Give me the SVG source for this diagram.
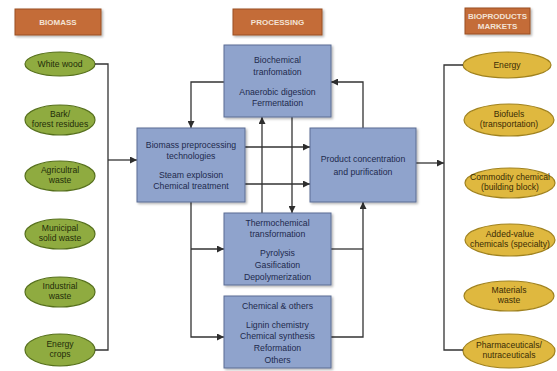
<svg xmlns="http://www.w3.org/2000/svg" width="557" height="371" viewBox="0 0 557 371">
<defs>
<marker id="ah" viewBox="0 0 8 8" refX="8" refY="4" markerWidth="7" markerHeight="7" markerUnits="userSpaceOnUse" orient="auto">
<path d="M0,0 L8,4 L0,8 z" fill="#2e2e2e"/>
</marker>
<filter id="sh" x="-10%" y="-10%" width="125%" height="125%">
<feDropShadow dx="1.5" dy="1.5" stdDeviation="1" flood-color="#000" flood-opacity="0.3"/>
</filter>
</defs>
<style>
text{font-family:"Liberation Sans",Arial,sans-serif;text-anchor:middle}
.hdr rect{fill:#c46c37;stroke:#9a4f24;stroke-width:1;filter:url(#sh)}
.hdr text{fill:#f3e3d6;font-size:8px;font-weight:bold}
.box rect{fill:#8fa3cc;stroke:#5b6c93;stroke-width:1;filter:url(#sh)}
.box text{fill:#1e2a4d;font-size:8.7px}
.g ellipse{fill:#8fab40;stroke:#56701c;stroke-width:1.2}
.g text{fill:#232d0a;font-size:8.6px}
.y ellipse{fill:#dfb83f;stroke:#a0821e;stroke-width:1.2}
.y text{fill:#3a2c05;font-size:8.6px}
.c path{fill:none;stroke:#333;stroke-width:1.3}
</style>
<rect width="557" height="371" fill="#fff"/>

<g id="hdr-biomass" class="hdr"><rect x="15" y="9" width="86" height="26"/><text x="58" y="25">BIOMASS</text></g>
<g id="hdr-processing" class="hdr"><rect x="233" y="9" width="89" height="26"/><text x="277.5" y="25">PROCESSING</text></g>
<g id="hdr-markets" class="hdr"><rect x="465" y="8" width="65" height="26"/><text x="497.5" y="19">BIOPRODUCTS</text><text x="497.5" y="29">MARKETS</text></g>

<g id="white-wood" class="g"><ellipse cx="60" cy="64" rx="35" ry="12"/><text x="60" y="67">White wood</text></g>
<g id="bark" class="g"><ellipse cx="60" cy="120" rx="35" ry="15"/><text x="60" y="117">Bark/</text><text x="60" y="127">forest residues</text></g>
<g id="agri" class="g"><ellipse cx="60" cy="176" rx="35" ry="15"/><text x="60" y="173">Agricultral</text><text x="60" y="183">waste</text></g>
<g id="municipal" class="g"><ellipse cx="60" cy="234" rx="35" ry="15"/><text x="60" y="231">Municipal</text><text x="60" y="241">solid waste</text></g>
<g id="industrial" class="g"><ellipse cx="60" cy="292" rx="35" ry="15"/><text x="60" y="289">Industrial</text><text x="60" y="299">waste</text></g>
<g id="energy-crops" class="g"><ellipse cx="60" cy="350" rx="35" ry="16"/><text x="60" y="347">Energy</text><text x="60" y="357">crops</text></g>

<g id="energy" class="y"><ellipse cx="507" cy="65" rx="44" ry="13"/><text x="507" y="68">Energy</text></g>
<g id="biofuels" class="y"><ellipse cx="509" cy="120" rx="45" ry="16"/><text x="509" y="117">Biofuels</text><text x="509" y="127">(transportation)</text></g>
<g id="commodity" class="y"><ellipse cx="510" cy="183" rx="45" ry="15"/><text x="510" y="180">Commodity chemical</text><text x="510" y="190">(building block)</text></g>
<g id="added-value" class="y"><ellipse cx="510" cy="240" rx="45" ry="16"/><text x="510" y="237">Added-value</text><text x="510" y="247">chemicals (specialty)</text></g>
<g id="materials" class="y"><ellipse cx="509" cy="296" rx="45" ry="15"/><text x="509" y="293">Materials</text><text x="509" y="303">waste</text></g>
<g id="pharma" class="y"><ellipse cx="509" cy="351" rx="46" ry="17"/><text x="509" y="348">Pharmaceuticals/</text><text x="509" y="358">nutraceuticals</text></g>

<g id="connectors" class="c">
<path d="M95,64 H108 V350 H95"/>
<path d="M108,160 H137" marker-end="url(#ah)"/>
<path d="M463,65 H444 V350 H463"/>
<path d="M416,163 H444" marker-end="url(#ah)"/>
<path d="M224,82 H191 V128" marker-end="url(#ah)"/>
<path d="M363,128 V82 H331" marker-end="url(#ah)"/>
<path d="M262,213 V117" marker-end="url(#ah)"/>
<path d="M292,117 V213" marker-end="url(#ah)"/>
<path d="M245,147 H310" marker-end="url(#ah)"/>
<path d="M245,184 H310" marker-end="url(#ah)"/>
<path d="M191,202 V337 H224" marker-end="url(#ah)"/>
<path d="M191,249 H224" marker-end="url(#ah)"/>
<path d="M331,249 H363"/>
<path d="M331,337 H363 V202" marker-end="url(#ah)"/>
</g>

<g id="biochemical" class="box"><rect x="224" y="45" width="107" height="72"/>
<text x="277.5" y="63">Biochemical</text><text x="277.5" y="75">tranfomation</text>
<text x="277.5" y="95">Anaerobic digestion</text><text x="277.5" y="106">Fermentation</text></g>
<g id="preprocessing" class="box"><rect x="137" y="128" width="108" height="74"/>
<text x="191" y="148">Biomass preprocessing</text><text x="191" y="159">technologies</text>
<text x="191" y="178">Steam explosion</text><text x="191" y="189">Chemical treatment</text></g>
<g id="product" class="box"><rect x="310" y="128" width="106" height="74"/>
<text x="363" y="162">Product concentration</text><text x="363" y="175">and purification</text></g>
<g id="thermochemical" class="box"><rect x="224" y="213" width="107" height="72"/>
<text x="277.5" y="226">Thermochemical</text><text x="277.5" y="237">transformation</text>
<text x="277.5" y="256">Pyrolysis</text><text x="277.5" y="268">Gasification</text><text x="277.5" y="280">Depolymerization</text></g>
<g id="chemical" class="box"><rect x="224" y="296" width="107" height="72"/>
<text x="277.5" y="309">Chemical &amp; others</text>
<text x="277.5" y="328">Lignin chemistry</text><text x="277.5" y="339">Chemical synthesis</text><text x="277.5" y="351">Reformation</text><text x="277.5" y="363">Others</text></g>
</svg>
